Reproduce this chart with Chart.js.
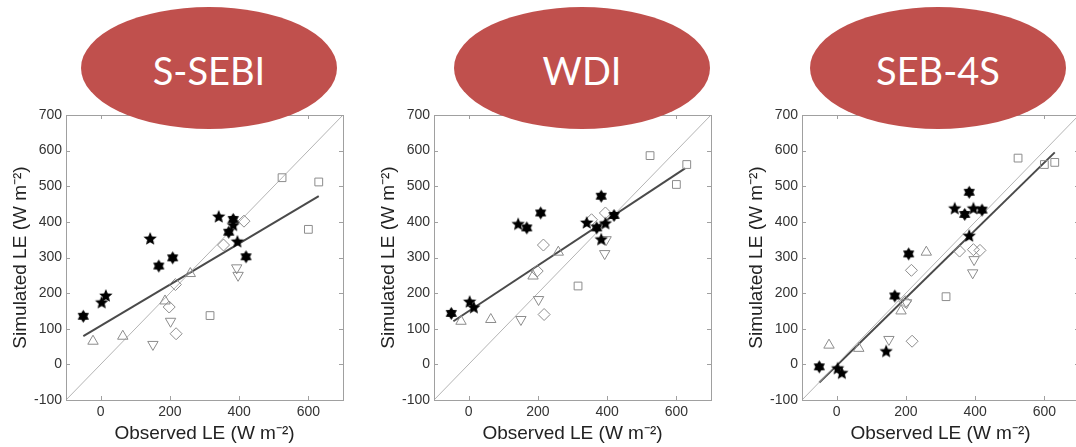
<!DOCTYPE html>
<html lang="en">
<head>
    <meta charset="UTF-8">
    <title>LE scatter: S-SEBI, WDI, SEB-4S</title>
    <script src="https://cdn.jsdelivr.net/npm/chart.js"></script>
    <style>
        html, body { margin: 0; padding: 0; background: #fff; overflow: hidden; }
        body { width: 1076px; height: 447px; position: relative; }
        .panel { position: absolute; top: 0; width: 350px; height: 447px; }
        .badge {
            position: absolute; top: 7px; width: 256px; height: 122px;
            border-radius: 50%; background: #c0504d; color: #fff;
            font-family: Lato, "Open Sans", sans-serif; font-size: 38px;
            display: flex; align-items: center; justify-content: center;
            padding-top: 4px; box-sizing: border-box;
            z-index: 5;
        }
    </style>
</head>
<body>
    <div class="panel" style="left:0px"><canvas id="c1" width="350" height="447"></canvas></div>
    <div class="panel" style="left:368px"><canvas id="c2" width="350" height="447"></canvas></div>
    <div class="panel" style="left:736px"><canvas id="c3" width="350" height="447"></canvas></div>
    <div class="badge" style="left:81px">S-SEBI</div>
    <div class="badge" style="left:454px">WDI</div>
    <div class="badge" style="left:810px">SEB-4S</div>

    <script>
    // observed LE per site group (W m-2)
    const obsHex = [-50, 168, 208, 370, 383, 420];
    const obsPent = [3, 15, 143, 341, 383, 395];
    const obsTriUp = [-22, 64, 186, 259];
    const obsTriDown = [151, 202, 393, 397];
    const obsDiamond = [198, 216, 218, 355, 395, 414];
    const obsSquare = [316, 524, 600, 630];

    // simulated LE, S-SEBI
    const ssebiHex = [135, 276, 299, 371, 407, 302];
    const ssebiPent = [173, 192, 352, 414, 390, 344];
    const ssebiTriUp = [65, 79, 178, 255];
    const ssebiTriDown = [56, 121, 271, 250];
    const ssebiDiamond = [161, 224, 86, 335, null, 402];
    const ssebiSquare = [137, 524, 379, 512];
    const ssebiFitX = [-50, 630];
    const ssebiFitY = [79, 472];

    // simulated LE, WDI
    const wdiHex = [143, 383, 425, 383, 472, 418];
    const wdiPent = [175, 159, 393, 397, 350, 395];
    const wdiTriUp = [121, 126, 248, 315];
    const wdiTriDown = [126, 182, 311, 350];
    const wdiDiamond = [262, 335, 140, 406, 425, null];
    const wdiSquare = [220, 586, 505, 561];
    const wdiFitX = [-44, 625];
    const wdiFitY = [121, 550];

    // simulated LE, SEB-4S
    const sebHex = [-7, 192, 310, 421, 483, 433];
    const sebPent = [-12, -25, 36, 437, 360, 437];
    const sebTriUp = [54, 45, 150, 315];
    const sebTriDown = [70, 173, 257, 294];
    const sebDiamond = [176, 264, 65, 318, 322, 320];
    const sebSquare = [190, 579, 561, 567];
    const sebFitX = [-50, 630];
    const sebFitY = [-51, 595];

    const oneToOne = [-100, 700];
    const xTicks = [0, 200, 400, 600];
    const yTicks = [-100, 0, 100, 200, 300, 400, 500, 600, 700];

    const FONT = '"Liberation Sans", Arial, sans-serif';
    const GREY = '#8c8c8c';

    function starImage(n, outer, innerRatio) {
        const c = document.createElement('canvas');
        const s = Math.ceil(outer * 2 + 2);
        c.width = c.height = s;
        const g = c.getContext('2d');
        g.fillStyle = '#000';
        g.beginPath();
        for (let i = 0; i < n * 2; i++) {
            const r = i % 2 ? outer * innerRatio : outer;
            const a = -Math.PI / 2 + i * Math.PI / n;
            g.lineTo(s / 2 + r * Math.cos(a), s / 2 + r * Math.sin(a));
        }
        g.closePath();
        g.fill();
        return c;
    }
    const hexStar = starImage(6, 6.5, 0.6);
    const pentStar = starImage(5, 7, 0.45);

    const pts = (xs, ys) => xs.map((x, i) => ({ x: x, y: ys[i] })).filter(p => p.y !== null);

    function markers(xs, ys, style, extra) {
        return Object.assign({
            type: 'scatter',
            data: pts(xs, ys),
            pointStyle: style,
            pointRadius: 6,
            borderColor: GREY,
            backgroundColor: 'rgba(0,0,0,0)',
            borderWidth: 1,
            order: 1
        }, extra || {});
    }

    function line(xs, ys, color, width) {
        return {
            type: 'line',
            data: pts(xs, ys),
            borderColor: color,
            borderWidth: width,
            pointRadius: 0,
            fill: false,
            order: 2
        };
    }

    // box with inward ticks, matlab style
    const boxPlugin = {
        id: 'box',
        afterDatasetsDraw(chart) {
            const { ctx, chartArea: a, scales } = chart;
            ctx.save();
            ctx.strokeStyle = '#a0a0a0';
            ctx.lineWidth = 1;
            ctx.strokeRect(a.left + 0.5, a.top + 0.5, a.right - a.left, a.bottom - a.top);
            ctx.beginPath();
            xTicks.forEach(v => {
                const px = Math.round(scales.x.getPixelForValue(v)) + 0.5;
                ctx.moveTo(px, a.bottom); ctx.lineTo(px, a.bottom - 4);
                ctx.moveTo(px, a.top); ctx.lineTo(px, a.top + 4);
            });
            yTicks.forEach(v => {
                const py = Math.round(scales.y.getPixelForValue(v)) + 0.5;
                ctx.moveTo(a.left, py); ctx.lineTo(a.left + 4, py);
                ctx.moveTo(a.right, py); ctx.lineTo(a.right - 4, py);
            });
            ctx.stroke();
            ctx.restore();
        }
    };

    function makePanel(id, s) {
        new Chart(document.getElementById(id), {
            type: 'scatter',
            data: {
                datasets: [
                    line(oneToOne, oneToOne, '#b4b4b4', 1),
                    line(s.fitX, s.fitY, '#4a4a4a', 2),
                    markers(obsTriUp, s.triUp, 'triangle'),
                    markers(obsTriDown, s.triDown, 'triangle', { rotation: 180 }),
                    markers(obsDiamond, s.diamond, 'rectRot', { pointRadius: 6 }),
                    markers(obsSquare, s.square, 'rect', { pointRadius: 5.5 }),
                    markers(obsHex, s.hex, hexStar, { order: 0 }),
                    markers(obsPent, s.pent, pentStar, { order: 0 })
                ]
            },
            options: {
                responsive: false,
                animation: false,
                events: [],
                layout: { padding: { top: 115, right: 4, bottom: 0, left: 0 } },
                plugins: { legend: { display: false }, tooltip: { enabled: false } },
                scales: {
                    x: {
                        type: 'linear', min: -100, max: 700,
                        afterBuildTicks: sc => { sc.ticks = xTicks.map(v => ({ value: v })); },
                        afterFit: sc => { sc.height = 47; },
                        grid: { display: false, drawTicks: false },
                        border: { display: false },
                        ticks: { padding: 4, color: '#333', font: { family: FONT, size: 14 } },
                        title: {
                            display: true, text: 'Observed LE (W m\u207B\u00B2)', color: '#222',
                            padding: { top: 0, bottom: 2 }, font: { family: FONT, size: 19 }
                        }
                    },
                    y: {
                        type: 'linear', min: -100, max: 700,
                        afterBuildTicks: sc => { sc.ticks = yTicks.map(v => ({ value: v })); },
                        afterFit: sc => { sc.width = 66; },
                        grid: { display: false, drawTicks: false },
                        border: { display: false },
                        ticks: { padding: 4, color: '#333', font: { family: FONT, size: 14 } },
                        title: {
                            display: true, text: 'Simulated LE (W m\u207B\u00B2)', color: '#222',
                            padding: { top: 9, bottom: 0 }, font: { family: FONT, size: 19 }
                        }
                    }
                }
            },
            plugins: [boxPlugin]
        });
    }

    makePanel('c1', { hex: ssebiHex, pent: ssebiPent, triUp: ssebiTriUp, triDown: ssebiTriDown,
        diamond: ssebiDiamond, square: ssebiSquare, fitX: ssebiFitX, fitY: ssebiFitY });
    makePanel('c2', { hex: wdiHex, pent: wdiPent, triUp: wdiTriUp, triDown: wdiTriDown,
        diamond: wdiDiamond, square: wdiSquare, fitX: wdiFitX, fitY: wdiFitY });
    makePanel('c3', { hex: sebHex, pent: sebPent, triUp: sebTriUp, triDown: sebTriDown,
        diamond: sebDiamond, square: sebSquare, fitX: sebFitX, fitY: sebFitY });
    </script>
</body>
</html>
